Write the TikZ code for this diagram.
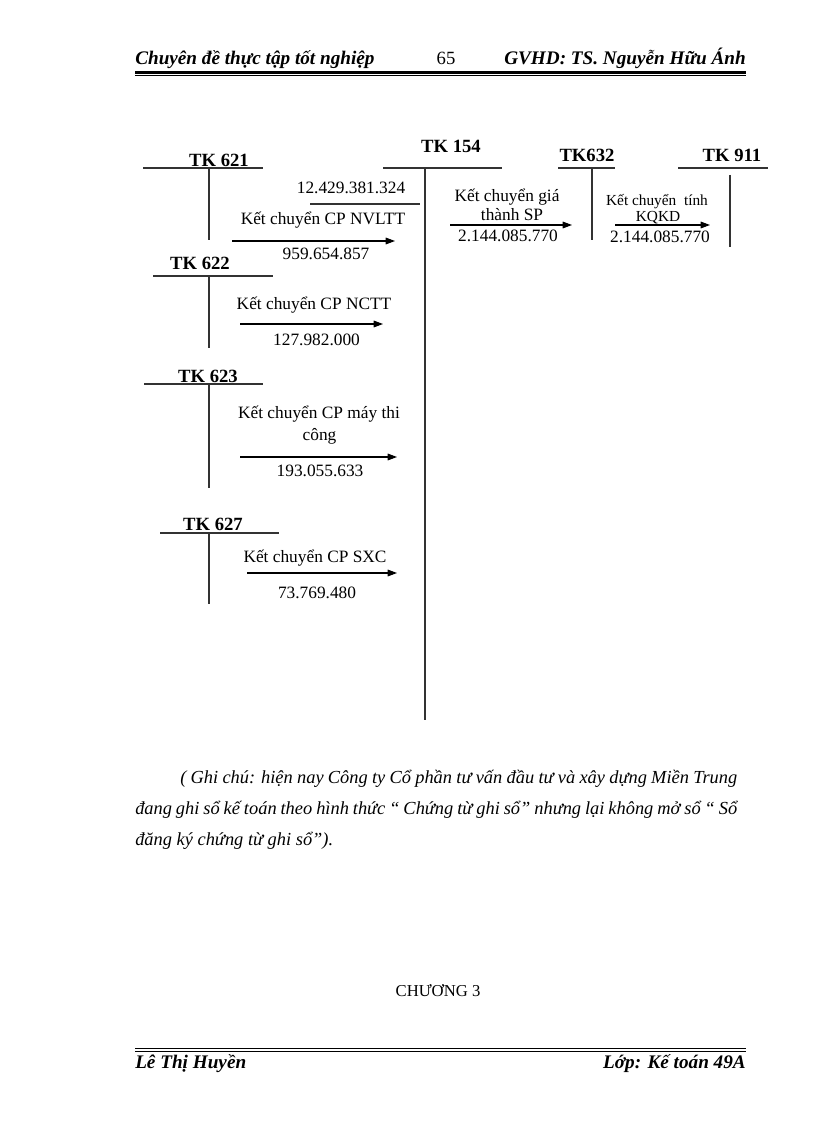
\documentclass[tikz,border=0pt]{standalone}
\usepackage{fontspec}
\setmainfont{Liberation Serif}
\usetikzlibrary{arrows.meta}
\tikzset{
  acct/.style={font=\fontsize{14}{16}\selectfont\bfseries, inner sep=0pt, anchor=base},
  lbl/.style={font=\fontsize{13}{15}\selectfont, inner sep=0pt, anchor=base},
  slbl/.style={font=\fontsize{11.5}{12}\selectfont, inner sep=0pt, anchor=base},
  hdr/.style={font=\fontsize{14.4}{16}\selectfont\bfseries\itshape, inner sep=0pt},
  note/.style={font=\fontsize{13.8}{15}\selectfont\itshape, inner sep=0pt, anchor=base west},
  tacc/.style={line width=0.9pt, black!80},
  arr/.style={-{Triangle[length=7pt,width=5pt]}, line width=0.8pt},
}

\begin{document}
\begin{tikzpicture}[x=0.75pt, y=-0.75pt]
\fill[white] (0,0) rectangle (816,1123);
\useasboundingbox (0,0) rectangle (816,1123);

% header and footer
\node[hdr, anchor=base west] (htitle) at (135,65) {Chuyên đề thực tập tốt nghiệp};
\node[lbl, font=\fontsize{14}{16}\selectfont] (hpage) at (446,65) {65};
\node[hdr, anchor=base east] (hgv) at (746,65) {GVHD: TS. Nguyễn Hữu Ánh};
\draw[line width=1.6pt] (135,72.5) -- (746,72.5);
\draw[line width=0.6pt] (135,75.8) -- (746,75.8);
\draw[line width=0.8pt] (135,1048.5) -- (746,1048.5);
\draw[line width=1.4pt] (135,1051.5) -- (746,1051.5);
\node[hdr, anchor=base west] (fname) at (135,1068) {Lê Thị Huyền};
\node[hdr, anchor=base east] (fclass) at (746,1068) {Lớp: Kế toán 49A};

% T accounts
\node[acct] (t621) at (219,167) {TK 621};
\draw[tacc] (143,168) -- (263,168) (209,168) -- (209,240);
\node[acct] (t622) at (200,269) {TK 622};
\draw[tacc] (153,276) -- (273,276) (209,276) -- (209,348);
\node[acct] (t623) at (208,382) {TK 623};
\draw[tacc] (144,384) -- (263,384) (209,384) -- (209,488);
\node[acct] (t627) at (213,530) {TK 627};
\draw[tacc] (160,533) -- (279,533) (209,533) -- (209,604);
\node[acct] (t154) at (451,153) {TK 154};
\draw[tacc] (383,168) -- (502,168) (425,168) -- (425,720);
\node[acct] (t632) at (587,162) {TK632};
\draw[tacc] (558,168) -- (615,168) (592,168) -- (592,240);
\node[acct] (t911) at (732,162) {TK 911};
\draw[tacc] (678,168) -- (768,168) (730,175) -- (730,247);

% opening balance of TK 154
\node[lbl] (b154) at (351,194) {12.429.381.324};
\draw[tacc] (310,204) -- (420,204);

% transfers into TK 154
\node[lbl] (l621) at (323,224) {Kết chuyển CP NVLTT};
\coordinate (s621) at (232,241);
\coordinate (e621) at (395,241);
\draw[arr] (s621) -- (e621);
\node[lbl] (n621) at (326,259) {959.654.857};

\node[lbl] (l622) at (314,309) {Kết chuyển CP NCTT};
\coordinate (s622) at (240,324);
\coordinate (e622) at (383,324);
\draw[arr] (s622) -- (e622);
\node[lbl] (n622) at (316.5,345) {127.982.000};

\node[lbl] (l623) at (319,418) {Kết chuyển CP máy thi};
\node[lbl] (l623b) at (319.5,440) {công};
\coordinate (s623) at (240,457);
\coordinate (e623) at (397,457);
\draw[arr] (s623) -- (e623);
\node[lbl] (n623) at (320,476) {193.055.633};

\node[lbl] (l627) at (315,562) {Kết chuyển CP SXC};
\coordinate (s627) at (247,573);
\coordinate (e627) at (397,573);
\draw[arr] (s627) -- (e627);
\node[lbl] (n627) at (317,598) {73.769.480};

% TK 154 -> TK 632 -> TK 911
\node[lbl] (l154) at (507,202) {Kết chuyển giá};
\node[lbl] (l154b) at (512,221) {thành SP};
\coordinate (s154) at (450,225);
\coordinate (e154) at (572,225);
\draw[arr] (s154) -- (e154);
\node[lbl] (n154) at (508,241) {2.144.085.770};

\node[slbl] (l632) at (657,206) {Kết chuyển\ \ tính};
\node[slbl] (l632b) at (658,222) {KQKD};
\coordinate (s632) at (615,225);
\coordinate (e632) at (710,225);
\draw[arr] (s632) -- (e632);
\node[lbl] (n632) at (660,243) {2.144.085.770};

% note
\node[note] (note1) at (180,783) {\makebox[417.75pt][s]{( Ghi chú: hiện nay Công ty Cổ phần tư vấn đầu tư và xây dựng Miền Trung}};
\node[note] (note2) at (135,814) {\makebox[451.5pt][s]{đang ghi sổ kế toán theo hình thức “ Chứng từ ghi sổ” nhưng lại không mở sổ “ Sổ}};
\node[note] (note3) at (135,845) {đăng ký chứng từ ghi sổ”).};

\node[lbl, font=\fontsize{12.5}{14}\selectfont] (chap) at (438,996) {CHƯƠNG 3};
\end{tikzpicture}
\end{document}
